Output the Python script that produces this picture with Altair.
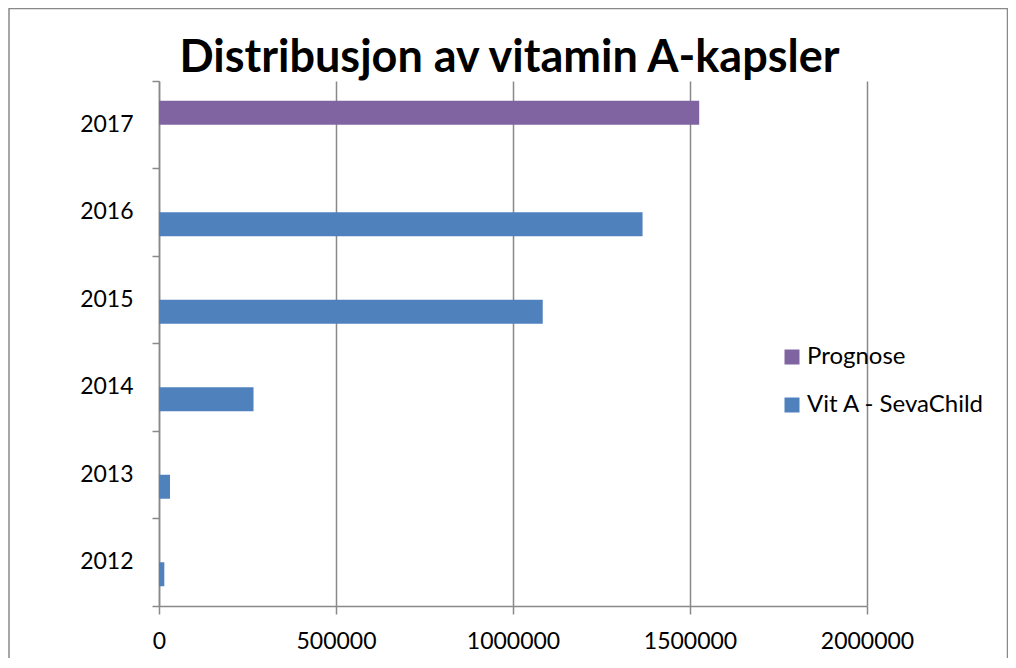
import altair as alt
import pandas as pd

years = ["2012", "2013", "2014", "2015", "2016", "2017"]
vit_a = [15000, 31000, 267000, 1084000, 1366000]
prognose_year = ["2017"]
prognose = [1526000]
series_names = ["Prognose", "Vit A - SevaChild"]
series_colors = ["#8064A2", "#4F81BD"]
x_ticks = [0, 500000, 1000000, 1500000, 2000000]
year_order = years[::-1]
title_text = "Distribusjon av vitamin A-kapsler"

rows = [{"year": y, "series": "Vit A - SevaChild", "value": v} for y, v in zip(years[:5], vit_a)]
rows += [{"year": y, "series": "Prognose", "value": v} for y, v in zip(prognose_year, prognose)]
df = pd.DataFrame(rows)

FONT = "Lato"
GRAY = "#898989"

bars = alt.Chart(df).mark_bar().encode(
    x=alt.X("value:Q",
            scale=alt.Scale(domain=[0, 2000000], nice=False),
            axis=alt.Axis(values=x_ticks, format="d", title=None, grid=True,
                          gridColor=GRAY, gridWidth=1.5, domainColor=GRAY, domainWidth=1.5,
                          tickColor=GRAY, tickWidth=1.5, tickSize=8, labelFlush=False,
                          labelFontSize=23, labelFont=FONT, labelColor="black",
                          labelPadding=16)),
    y=alt.Y("year:N", sort=year_order,
            scale=alt.Scale(paddingInner=0, paddingOuter=0),
            axis=alt.Axis(title=None, grid=False, bandPosition=1, tickExtra=True,
                          domainColor=GRAY, domainWidth=1.5,
                          tickColor=GRAY, tickWidth=1.5, tickSize=7,
                          labelFontSize=23, labelFont=FONT, labelColor="black",
                          labelPadding=19)),
    yOffset=alt.YOffset("series:N", sort=series_names,
                        scale=alt.Scale(domain=series_names, paddingInner=0, paddingOuter=0.823)),
    color=alt.Color("series:N",
                    scale=alt.Scale(domain=series_names, range=series_colors),
                    legend=alt.Legend(title=None, orient="none", legendX=621, legendY=264,
                                      symbolType="square", symbolSize=225, symbolStrokeWidth=0,
                                      labelFontSize=24, labelFont=FONT, labelColor="black",
                                      labelOffset=3, rowPadding=24, labelLimit=400)),
)

one = pd.DataFrame({"a": [0]})

border = alt.Chart(one).mark_rect(
    fill="transparent", stroke=GRAY, strokeWidth=1.5
).encode(
    x=alt.value(-150), x2=alt.value(848.5), y=alt.value(-72.5), y2=alt.value(640)
)

title = alt.Chart(one).mark_text(
    text=title_text, font=FONT, fontSize=45, fontWeight="bold", color="black",
    align="center", baseline="alphabetic"
).encode(x=alt.value(350.5), y=alt.value(-9))

chart = alt.layer(border, bars, title).properties(
    width=708, height=525,
    autosize=alt.AutoSizeParams(type="none"),
    padding={"left": 151, "top": 73, "right": 141, "bottom": 52},
).configure_view(strokeWidth=0)

chart.save("out.html", embed_options={"renderer": "svg", "actions": False})
